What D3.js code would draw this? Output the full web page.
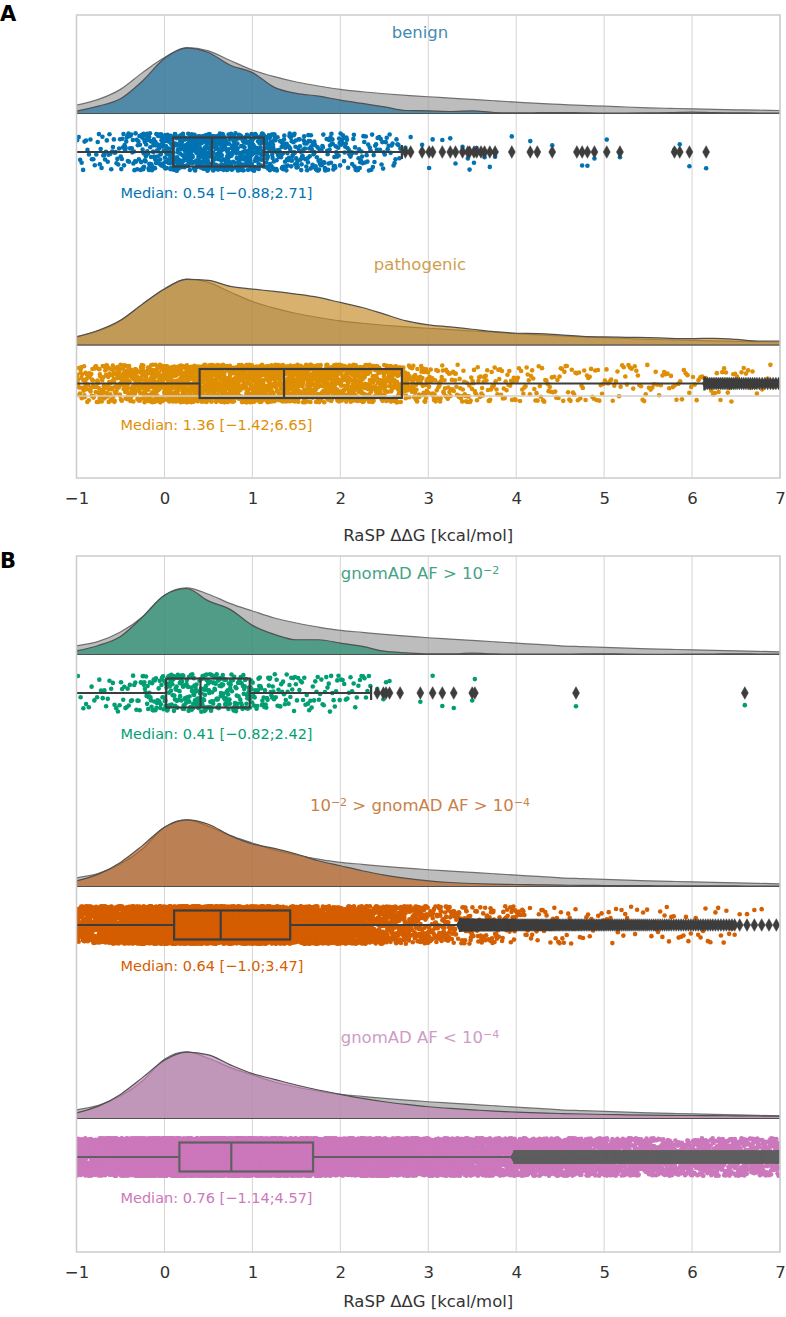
<!DOCTYPE html>
<html><head><meta charset="utf-8">
<script src="https://cdn.jsdelivr.net/npm/d3@7"></script>
<style>body{margin:0;background:#fff} svg{display:block;font-family:"DejaVu Sans",sans-serif}</style>
</head><body><svg id="chart" width="786" height="1317"></svg>
<script>
// ---------------- DATA ----------------
const ticks = [-1,0,1,2,3,4,5,6,7];
const kdeGrid = [-1,-0.75,-0.5,-0.25,0,0.25,0.5,0.75,1,1.25,1.5,1.75,2,2.25,2.5,2.75,3,3.25,3.5,3.75,4,4.25,4.5,4.75,5,5.25,5.5,5.75,6,6.25,6.5,6.75,7];
const binWidth = 0.25;

// overall (gray) densities, normalised to peak
const grayA = [.125,.21,.36,.61,.835,.985,.935,.79,.65,.55,.47,.41,.36,.325,.295,.27,.25,.23,.21,.19,.17,.15,.135,.12,.11,.097,.085,.077,.07,.062,.055,.05,.045];
const grayB = [.13,.195,.335,.56,.885,.995,.90,.76,.65,.545,.47,.41,.36,.33,.30,.275,.25,.23,.21,.19,.17,.15,.13,.117,.105,.095,.085,.077,.07,.062,.055,.047,.04];

// group densities
const kdeBenign = [.035,.11,.22,.485,.82,.975,.91,.72,.61,.39,.30,.26,.20,.15,.10,.045,.04,.03,.04,.015,.01,.012,.015,.01,.005,.007,.01,.012,.02,.012,.01,.007,.005];
const kdePatho  = [.12,.22,.37,.61,.835,.98,.965,.875,.835,.80,.76,.71,.635,.56,.46,.36,.30,.27,.235,.20,.175,.17,.15,.13,.12,.115,.11,.10,.095,.10,.085,.06,.06];
const kdeHigh   = [.055,.135,.27,.56,.885,.985,.80,.67,.435,.30,.22,.22,.17,.12,.05,.025,.01,.01,.02,.01,.005,.005,.006,.008,.01,.006,.004,.004,.005,.006,.01,.006,.005];
const kdeMid    = [.085,.185,.36,.61,.885,.995,.93,.76,.635,.57,.485,.385,.31,.235,.17,.12,.085,.06,.045,.035,.03,.025,.02,.017,.015,.013,.012,.011,.01,.01,.008,.007,.006];
const kdeLow    = [.085,.185,.36,.61,.87,.99,.95,.80,.67,.585,.50,.425,.36,.30,.25,.21,.175,.15,.13,.11,.095,.085,.075,.067,.06,.055,.05,.047,.045,.042,.04,.037,.035];

// strip-plot point counts per 0.25 bin starting at -1
const cntBenign = [15,25,40,80,125,150,140,115,95,65,52,46,38,28,18];
const cntPatho  = [60,85,110,150,190,215,210,200,190,185,175,165,150,135,110,70,40,34,30,24,20,20,18,16,14,14,13,12,12,12,10,8];
const cntHigh   = [8,13,20,40,68,73,62,50,34,24,18,18,14,6];
const cntMid    = [250,330,450,600,800,880,850,720,620,560,480,390,310,230,170,120,85,60,45,35,20,17,15,13,12,11,10,9,9,8,3,3];
const cntLow    = [300,500,850,1250,1550,1650,1600,1450,1300,1150,1000,880,780,680,580,500,440,390,350,310,280,250,230,210,195,180,170,160,150,145,140,130];

// individual tail values (beyond upper whisker) for the small groups
const tailBenign = [2.74,2.80,2.93,3.01,3.05,3.16,3.25,3.31,3.39,3.45,3.47,3.52,3.55,3.60,3.64,3.70,3.76,3.95,4.16,4.24,4.41,4.69,4.75,4.81,4.89,5.03,5.18,5.80,5.86,5.97,6.16];
const tailHigh   = [2.42,2.49,2.52,2.56,2.68,2.91,3.05,3.16,3.29,3.50,3.53,4.68,6.60];

// box statistics: benign, pathogenic, AF>1e-2, 1e-2>AF>1e-4, AF<1e-4
const boxQ1     = [0.10, 0.40, 0.02, 0.11, 0.17];
const boxMedian = [0.54, 1.36, 0.41, 0.64, 0.76];
const boxQ3     = [1.13, 2.70, 0.97, 1.43, 1.69];
const whiskerLo = [-1.45, -2.55, -1.40, -1.87, -2.11];
const whiskerHi = [2.70, 6.14, 2.35, 3.36, 3.98];
const medianLabels = ["Median: 0.54 [−0.88;2.71]","Median: 1.36 [−1.42;6.65]","Median: 0.41 [−0.82;2.42]","Median: 0.64 [−1.0;3.47]","Median: 0.76 [−1.14;4.57]"];
const titleParts = [
  [["benign",0]],
  [["pathogenic",0]],
  [["gnomAD AF > 10",0],["−2",1]],
  [["10",0],["−2",1],[" > gnomAD AF > 10",0],["−4",1]],
  [["gnomAD AF < 10",0],["−4",1]]
];
const pointColors = ["#0173B2","#DE8F05","#029E73","#D55E00","#CC78BC"];
const kdeColors   = ["#176D9C","#C38720","#168B6A","#BA611B","#C283B6"];
const titleColors = ["#458AB0","#CF9F4D","#45A288","#C88149","#CE9CC5"];
const axisTitle = "RaSP ΔΔG [kcal/mol]";

// ---------------- LAYOUT ----------------
const svg = d3.select("#chart");
const x = d3.scaleLinear().domain([-1,7]).range([76.5,780]);
const groups = [0,1,2,3,4].map(i=>({
  i, title:titleParts[i], kde:[kdeBenign,kdePatho,kdeHigh,kdeMid,kdeLow][i],
  counts:[cntBenign,cntPatho,cntHigh,cntMid,cntLow][i],
  tail:[tailBenign,[],tailHigh,[],[]][i],
  cap:[whiskerHi[0],7,whiskerHi[2],7,7][i],
  boxColor: i===4 ? "#606060" : "#3d3d3d"
}));
const panels = [
  {label:"A", labelY:21, top:15, bottom:478, gray:grayA, members:[0,1], titleY:541},
  {label:"B", labelY:568, top:556, bottom:1252, gray:grayB, members:[2,3,4], titleY:1307}
];
const OFF = {title:23, base:98.5, kdeH:67, strip:137, jit:18.8, boxH:14.5, median:183};

function hash(n){ const s=Math.sin(n*12.9898+78.233)*43758.5453; return s-Math.floor(s); }

panels.forEach((p,pi)=>{
  const g = svg.append("g");
  const clipId = "clip"+pi;
  svg.append("clipPath").attr("id",clipId).append("rect")
    .attr("x",x(-1)).attr("y",p.top).attr("width",x(7)-x(-1)).attr("height",p.bottom-p.top);
  // grid
  g.selectAll("line.grid").data(ticks).join("line")
    .attr("x1",d=>x(d)).attr("x2",d=>x(d)).attr("y1",p.top).attr("y2",p.bottom)
    .attr("stroke","#d4d4d4").attr("stroke-width",1);
  const band = d3.scaleLinear().domain([0,p.members.length]).range([p.top,p.bottom]);
  const content = g.append("g").attr("clip-path",`url(#${clipId})`);

  p.members.forEach((gi,k)=>{
    const G = groups[gi];
    const t0 = band(k);
    const base = t0+OFF.base;
    const yK = d3.scaleLinear().domain([0,1]).range([base, base-OFF.kdeH]);
    const area = d3.area().x((d,j)=>x(kdeGrid[j])).y0(base).y1(d=>yK(d)).curve(d3.curveMonotoneX);
    content.append("path").attr("d",area(p.gray)+"Z")
      .attr("fill","#999999").attr("fill-opacity",0.65).attr("stroke","#707070").attr("stroke-width",1.2);
    content.append("path").attr("d",area(G.kde)+"Z")
      .attr("fill",kdeColors[gi]).attr("fill-opacity",0.65).attr("stroke","#505050").attr("stroke-width",1.2);

    // points
    const cy = t0+OFF.strip;
    const vals = [];
    G.counts.forEach((n,b)=>{
      const lo = kdeGrid[b], hi = Math.min(lo+binWidth, G.cap);
      for(let j=0;j<n;j++) vals.push(lo+(j+0.5)/n*(hi-lo));
    });
    G.tail.forEach(v=>vals.push(v));
    const pts = vals.map((v,j)=>({v, y: cy+(hash(j*1.37+gi*1000)*2-1)*OFF.jit}));
    content.append("g").selectAll("circle").data(pts).join("circle")
      .attr("cx",d=>x(d.v)).attr("cy",d=>d.y).attr("r",2.3).attr("fill",pointColors[gi]);

    if(pi===0 && k===1){
      content.append("line").attr("x1",x(-1)).attr("x2",x(7)).attr("y1",cy+12.5).attr("y2",cy+12.5)
        .attr("stroke","#cfcfcf").attr("stroke-width",1.5);
    }
    // box
    const bc = G.boxColor;
    const bx = content.append("g").attr("stroke",bc).attr("stroke-width",2.2).attr("fill","none");
    bx.append("line").attr("x1",x(whiskerLo[gi])).attr("x2",x(boxQ1[gi])).attr("y1",cy).attr("y2",cy);
    bx.append("line").attr("x1",x(boxQ3[gi])).attr("x2",x(whiskerHi[gi])).attr("y1",cy).attr("y2",cy);
    bx.append("line").attr("x1",x(whiskerHi[gi])).attr("x2",x(whiskerHi[gi])).attr("y1",cy-7).attr("y2",cy+7);
    bx.append("rect").attr("x",x(boxQ1[gi])).attr("y",cy-OFF.boxH)
      .attr("width",x(boxQ3[gi])-x(boxQ1[gi])).attr("height",2*OFF.boxH);
    bx.append("line").attr("x1",x(boxMedian[gi])).attr("x2",x(boxMedian[gi])).attr("y1",cy-OFF.boxH).attr("y2",cy+OFF.boxH);
    // fliers
    const fl = vals.filter(v=>v>whiskerHi[gi] || v<whiskerLo[gi]);
    content.append("g").selectAll("path").data(fl).join("path")
      .attr("transform",d=>`translate(${x(d)},${cy})`)
      .attr("d","M0,-6.3L3.5,0L0,6.3L-3.5,0Z").attr("fill",bc).attr("stroke",bc).attr("stroke-width",0.5);

    // title
    const tt = g.append("text").attr("x",420).attr("y",t0+OFF.title).attr("text-anchor","middle")
      .attr("font-size",16.5).attr("fill",titleColors[gi]);
    G.title.forEach(([s,sup])=>{
      const ts = tt.append("tspan").text(s);
      if(sup) ts.attr("font-size",11).attr("baseline-shift","48%");
    });
    // median label
    g.append("text").attr("x",x(-0.5)).attr("y",t0+OFF.median).attr("font-size",14.5)
      .attr("fill",pointColors[gi]).text(medianLabels[gi]);
  });

  // frame
  g.append("rect").attr("x",x(-1)).attr("y",p.top).attr("width",x(7)-x(-1)).attr("height",p.bottom-p.top)
    .attr("fill","none").attr("stroke","#cccccc").attr("stroke-width",1.5);
  // axis
  const ax = g.append("g").attr("transform",`translate(0,${p.bottom})`)
    .call(d3.axisBottom(x).tickValues(ticks).tickSize(0).tickPadding(14.3)
      .tickFormat(d=> d<0 ? "−"+Math.abs(d) : String(d)));
  ax.select(".domain").remove();
  ax.selectAll("text").attr("font-size",16.5).attr("fill","#333").attr("font-family","DejaVu Sans");
  g.append("text").attr("x",(x(-1)+x(7))/2).attr("y",p.titleY).attr("text-anchor","middle")
    .attr("font-size",16.5).attr("fill","#333").text(axisTitle);
  g.append("text").attr("x",0).attr("y",p.labelY).attr("font-size",21).attr("font-weight","bold")
    .attr("fill","#000").text(p.label);
});
</script></body></html>
